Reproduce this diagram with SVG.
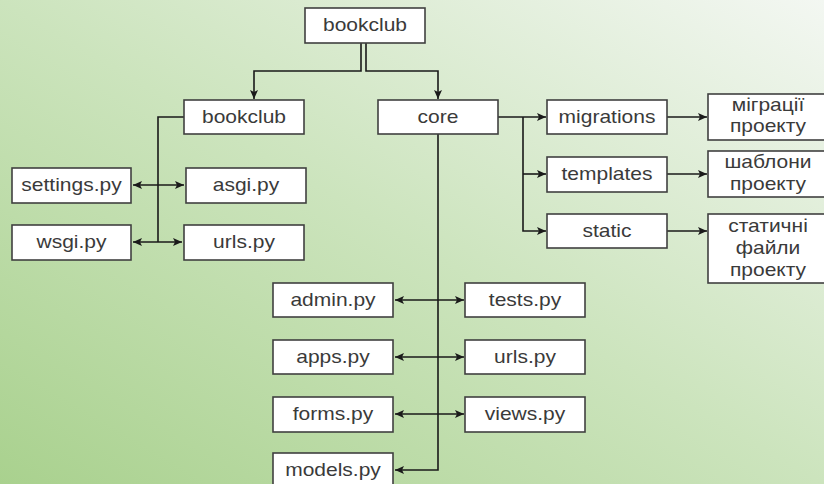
<svg xmlns="http://www.w3.org/2000/svg" width="824" height="484" viewBox="0 0 824 484">
<defs>
<linearGradient id="bg" x1="0" y1="1" x2="1" y2="0">
<stop offset="0" stop-color="#a9d18e"/>
<stop offset="0.5" stop-color="#cce4bd"/>
<stop offset="1" stop-color="#f3f7f2"/>
</linearGradient>
<marker id="ah" markerUnits="userSpaceOnUse" markerWidth="10" markerHeight="10" refX="9" refY="4" orient="auto-start-reverse" viewBox="0 0 10 8">
<path d="M0,0 L9,4 L0,8 L2,4 Z" fill="#1a1a1a"/>
</marker>
<style>
.box{fill:#ffffff;stroke:#404040;stroke-width:1.6}
.t{font-family:"Liberation Sans",Arial,sans-serif;font-size:17.5px;fill:#3a3a3a;text-anchor:middle}
.c{fill:none;stroke:#1a1a1a;stroke-width:1.6}
</style>
</defs>
<rect x="0" y="0" width="824" height="484" fill="url(#bg)"/>

<g id="connectors">
<path class="c" d="M361,43 V71 H254 V99" marker-end="url(#ah)"/>
<path class="c" d="M366,43 V71 H438 V99" marker-end="url(#ah)"/>
<path class="c" d="M184,117 H158 V242"/>
<path class="c" d="M133,185 H184" marker-start="url(#ah)" marker-end="url(#ah)"/>
<path class="c" d="M133,242 H182" marker-start="url(#ah)" marker-end="url(#ah)"/>
<path class="c" d="M498,117 H546" marker-end="url(#ah)"/>
<path class="c" d="M523,117 V231 H546" marker-end="url(#ah)"/>
<path class="c" d="M523,174 H546" marker-end="url(#ah)"/>
<path class="c" d="M667,117 H707" marker-end="url(#ah)"/>
<path class="c" d="M667,174 H707" marker-end="url(#ah)"/>
<path class="c" d="M667,231 H707" marker-end="url(#ah)"/>
<path class="c" d="M438,134 V470 H395" marker-end="url(#ah)"/>
<path class="c" d="M395,300 H464" marker-start="url(#ah)" marker-end="url(#ah)"/>
<path class="c" d="M395,357 H464" marker-start="url(#ah)" marker-end="url(#ah)"/>
<path class="c" d="M395,414 H464" marker-start="url(#ah)" marker-end="url(#ah)"/>
</g>

<g id="root"><rect class="box" x="305" y="8" width="120" height="35"/><text class="t" transform="translate(365,31) scale(1.2,1)">bookclub</text></g>
<g id="bookclub"><rect class="box" x="184" y="100" width="120" height="34"/><text class="t" transform="translate(244,123) scale(1.2,1)">bookclub</text></g>
<g id="core"><rect class="box" x="378" y="100" width="120" height="34"/><text class="t" transform="translate(438,123) scale(1.2,1)">core</text></g>
<g id="settings"><rect class="box" x="12" y="168" width="119" height="35"/><text class="t" transform="translate(71.5,191) scale(1.2,1)">settings.py</text></g>
<g id="asgi"><rect class="box" x="186" y="168" width="120" height="35"/><text class="t" transform="translate(246,191) scale(1.2,1)">asgi.py</text></g>
<g id="wsgi"><rect class="box" x="12" y="225" width="119" height="35"/><text class="t" transform="translate(71.5,248) scale(1.2,1)">wsgi.py</text></g>
<g id="urls1"><rect class="box" x="184" y="225" width="120" height="35"/><text class="t" transform="translate(244,248) scale(1.2,1)">urls.py</text></g>
<g id="migrations"><rect class="box" x="547" y="100" width="120" height="34"/><text class="t" transform="translate(607,123) scale(1.2,1)">migrations</text></g>
<g id="templates"><rect class="box" x="547" y="157" width="120" height="35"/><text class="t" transform="translate(607,180) scale(1.2,1)">templates</text></g>
<g id="static"><rect class="box" x="547" y="214" width="120" height="34"/><text class="t" transform="translate(607,237) scale(1.2,1)">static</text></g>
<g id="mig-desc"><rect class="box" x="708" y="94" width="120" height="46"/><text class="t" transform="translate(768,111) scale(1.2,1)">міграції</text><text class="t" transform="translate(768,132) scale(1.2,1)">проекту</text></g>
<g id="tpl-desc"><rect class="box" x="708" y="151" width="120" height="46"/><text class="t" transform="translate(768,168) scale(1.2,1)">шаблони</text><text class="t" transform="translate(768,190) scale(1.2,1)">проекту</text></g>
<g id="static-desc"><rect class="box" x="708" y="214" width="120" height="69"/><text class="t" transform="translate(768,232) scale(1.2,1)">статичні</text><text class="t" transform="translate(768,254) scale(1.2,1)">файли</text><text class="t" transform="translate(768,276) scale(1.2,1)">проекту</text></g>
<g id="admin"><rect class="box" x="273" y="283" width="120" height="34"/><text class="t" transform="translate(333,306) scale(1.2,1)">admin.py</text></g>
<g id="tests"><rect class="box" x="465" y="283" width="120" height="34"/><text class="t" transform="translate(525,306) scale(1.2,1)">tests.py</text></g>
<g id="apps"><rect class="box" x="273" y="340" width="120" height="34"/><text class="t" transform="translate(333,363) scale(1.2,1)">apps.py</text></g>
<g id="urls2"><rect class="box" x="465" y="340" width="120" height="34"/><text class="t" transform="translate(525,363) scale(1.2,1)">urls.py</text></g>
<g id="forms"><rect class="box" x="273" y="397" width="120" height="35"/><text class="t" transform="translate(333,420) scale(1.2,1)">forms.py</text></g>
<g id="views"><rect class="box" x="465" y="397" width="120" height="35"/><text class="t" transform="translate(525,420) scale(1.2,1)">views.py</text></g>
<g id="models"><rect class="box" x="273" y="453" width="120" height="34"/><text class="t" transform="translate(333,476) scale(1.2,1)">models.py</text></g>
</svg>
